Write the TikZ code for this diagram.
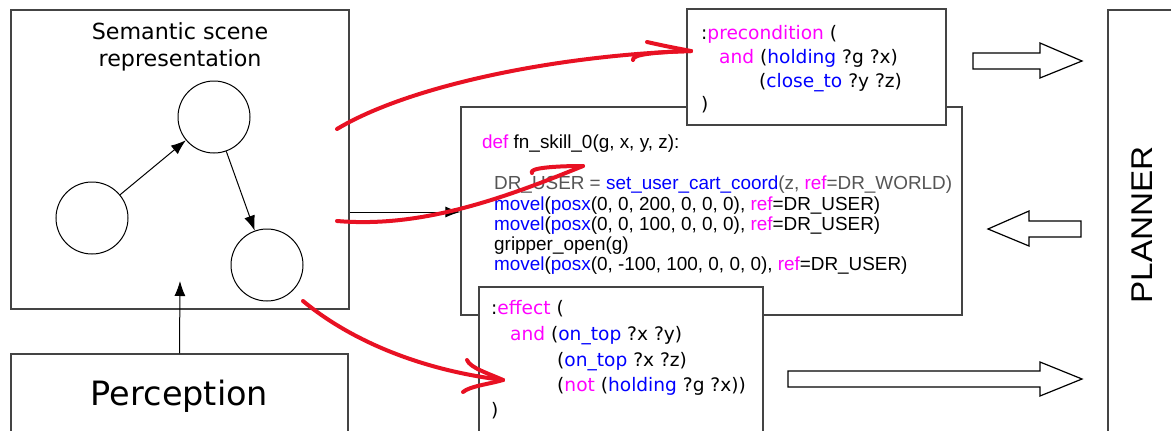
\documentclass[tikz,border=0pt]{standalone}
\usepackage{fontspec}
\setmainfont{DejaVu Sans}
\newfontfamily\codefont{Liberation Sans}
\usetikzlibrary{arrows.meta}
\definecolor{kw}{RGB}{255,0,255}
\definecolor{fn}{RGB}{0,0,255}
\definecolor{dim}{RGB}{85,85,85}
\definecolor{inkred}{RGB}{232,17,35}
\definecolor{edge}{RGB}{68,68,68}
\begin{document}
\begin{tikzpicture}[x=1pt,y=-1pt,
  box/.style={draw=edge, line width=1.1pt, fill=white, inner sep=0pt},
  vertex/.style={circle, draw=black, line width=1pt, minimum size=72pt, inner sep=0pt},
  arr/.style={draw=black, line width=1pt, -{Latex[length=15pt,width=11pt]}},
  scribble/.style={draw=inkred, line width=4pt, line cap=round, line join=round},
  block/.style={draw=black, line width=1.2pt, fill=white},
  pddl/.style={anchor=base west, inner sep=0pt, font=\fontsize{18.6}{22}\selectfont},
  codeline/.style={anchor=base west, inner sep=0pt, font=\codefont\fontsize{18.9}{22}\selectfont},
]
\clip (0,0) rectangle (1171,431);
\fill[white] (0,0) rectangle (1171,431);

% semantic scene representation
\node[box, minimum width=338pt, minimum height=299pt] (scene) at (180,159.5) {};
\node[anchor=base, inner sep=0pt, font=\fontsize{22.2}{27}\selectfont] (title1) at (180,39) {Semantic scene};
\node[anchor=base, inner sep=0pt, font=\fontsize{22.2}{27}\selectfont] (title2) at (180,66) {representation};
\node[vertex] (c1) at (92,218) {};
\node[vertex] (c2) at (214,117) {};
\node[vertex] (c3) at (267,265) {};
\draw[arr] (c1) -- (c2);
\draw[arr] (c2) -- (c3);

% perception
\node[box, minimum width=337pt, minimum height=96pt] (percep) at (179.5,402) {};
\node[anchor=base, inner sep=0pt, font=\fontsize{33.5}{38}\selectfont] (perceplabel) at (179.5,405) {Perception};
\coordinate (sense) at (180,281);
\draw[arr] (percep.north) -- (sense);

% skill code
\node[box, minimum width=501pt, minimum height=208pt] (code) at (711.5,211) {};
\coordinate (feedout) at ([yshift=-52.5pt]scene.east);
\draw[arr] (feedout) -- (code.west |- feedout);
\node[codeline] (l0) at (482,148) {\textcolor{kw}{def} fn\_skill\_0(g, x, y, z):};
\node[codeline] (l1) at (494,189) {\color{dim}DR\_USER = \textcolor{fn}{set\_user\_cart\_coord}(z, \textcolor{kw}{ref}=DR\_WORLD)};
\node[codeline] (l2) at (494,210) {\textcolor{fn}{movel}(\textcolor{fn}{posx}(0, 0, 200, 0, 0, 0), \textcolor{kw}{ref}=DR\_USER)};
\node[codeline] (l3) at (494,230) {\textcolor{fn}{movel}(\textcolor{fn}{posx}(0, 0, 100, 0, 0, 0), \textcolor{kw}{ref}=DR\_USER)};
\node[codeline] (l4) at (494,250) {gripper\_open(g)};
\node[codeline] (l5) at (494,270) {\textcolor{fn}{movel}(\textcolor{fn}{posx}(0, -100, 100, 0, 0, 0), \textcolor{kw}{ref}=DR\_USER)};

% precondition
\node[box, minimum width=259pt, minimum height=116pt] (pre) at (816.5,67) {};
\node[pddl] (p0) at (701,39) {:\textcolor{kw}{precondition} (};
\node[pddl] (p1) at (719,63) {\textcolor{kw}{and} (\textcolor{fn}{holding} ?g ?x)};
\node[pddl] (p2) at (759,87) {(\textcolor{fn}{close\_to} ?y ?z)};
\node[pddl] (p3) at (701,110) {)};

% effect
\node[box, minimum width=284pt, minimum height=163pt] (eff) at (621,368.5) {};
\node[pddl] (e0) at (491,314) {:\textcolor{kw}{effect} (};
\node[pddl] (e1) at (510,340) {\textcolor{kw}{and} (\textcolor{fn}{on\_top} ?x ?y)};
\node[pddl] (e2) at (557,366) {(\textcolor{fn}{on\_top} ?x ?z)};
\node[pddl] (e3) at (557,391) {(\textcolor{kw}{not} (\textcolor{fn}{holding} ?g ?x))};
\node[pddl] (e4) at (491,416) {)};

% planner
\node[box, minimum width=80pt, minimum height=440pt] (planner) at (1148,230) {};
\node[rotate=90, anchor=base, inner sep=0pt, font=\codefont\fontsize{30}{36}\selectfont] (plannerlabel) at (1152,225) {\scalebox{1.11}[1]{PLANNER}};

% exchange with the planner
\draw[block] (973,53) -- (1040,53) -- (1040,43) -- (1082,61) -- (1040,78) -- (1040,69) -- (973,69) -- cycle;
\draw[block] (1081,221) -- (1029,221) -- (1029,211) -- (988,229) -- (1029,246) -- (1029,237) -- (1081,237) -- cycle;
\draw[block] (788,371) -- (1040,371) -- (1040,362) -- (1082,379) -- (1040,396) -- (1040,387) -- (788,387) -- cycle;

% hand-drawn links from the scene
\coordinate (s1) at (337,129);
\coordinate (t1) at (691,51);
\coordinate (s2) at (337,221);
\coordinate (t2) at (583,166);
\coordinate (s3) at (303,301);
\coordinate (t3) at (503,380);
\draw[scribble] (s1) .. controls (410,85) and (560,55) .. (t1);
\draw[scribble] (647,42) .. controls (665,46) .. (t1);
\draw[scribble] (633,60) .. controls (631,54) and (660,52) .. (t1);
\draw[scribble] (s2) .. controls (420,228) and (500,200) .. (t2);
\draw[scribble] (532,173) .. controls (528,168) and (555,166) .. (t2);
\draw[scribble] (s3) .. controls (350,340) and (420,370) .. (t3);
\draw[scribble] (467,360) .. controls (470,368) and (490,374) .. (t3);
\draw[scribble] (463,392) .. controls (470,386) and (490,384) .. (t3);
\end{tikzpicture}
\end{document}
